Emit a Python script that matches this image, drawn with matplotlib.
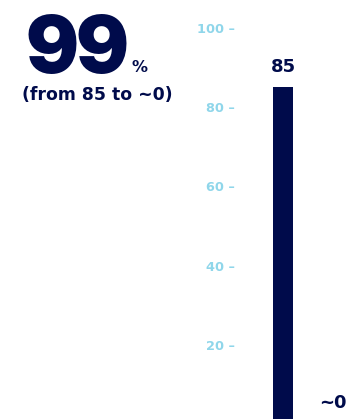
import matplotlib
matplotlib.use("Agg")
import matplotlib.pyplot as plt
from matplotlib import font_manager as fm
from matplotlib.ticker import FixedLocator, FixedFormatter

categories = ["before", "after"]
values = [85, 0.3]
value_labels = ["85", "~0"]
tick_values = [20, 40, 60, 80, 100]
tick_labels = ["20 \u2013", "40 \u2013", "60 \u2013", "80 \u2013", "100 \u2013"]
headline = "99"
subline = "(from 85 to ~0)"

NAVY = "#000b4b"
CYAN = "#8fd6ea"
FONT = ["DejaVu Sans"]

# heaviest installed Inter Display face for the headline
cands = [f for f in fm.fontManager.ttflist
         if f.name == "Inter Display" and f.style == "normal"]
if cands:
    best = max(cands, key=lambda f: (f.weight if isinstance(f.weight, int) else 400))
    BIGPROP = fm.FontProperties(fname=best.fname)
else:
    BIGPROP = fm.FontProperties(family="DejaVu Sans", weight="bold")
BIGPROP.set_size(57)

fig = plt.figure(figsize=(3.47, 4.19), dpi=100)
ax = fig.add_axes([0, 0, 1, 1])
ax.set_facecolor("none")

xs = list(range(len(categories)))
ax.bar(xs, values, width=0.4, color=NAVY)
for x, v, lab in zip(xs, values, value_labels):
    ax.annotate(lab, (x, v), xytext=(0, 8), textcoords="offset points",
                ha="center", va="bottom", fontsize=13, fontweight="bold",
                color=NAVY, family=FONT, annotation_clip=False)

ax.set_xlim(-5.66, 1.28)
ax.set_ylim(1.26, 107.07)

for s in ax.spines.values():
    s.set_visible(False)
ax.set_xticks([])

ax.yaxis.set_major_locator(FixedLocator(tick_values))
ax.yaxis.set_major_formatter(FixedFormatter(tick_labels))
ax.tick_params(axis="y", length=0, pad=0, labelsize=9.3, labelcolor=CYAN)
for t in ax.get_yticklabels():
    t.set_fontweight("bold")
    t.set_family(FONT)
    t.set_horizontalalignment("right")
ax.yaxis.set_tick_params(pad=-235 * 72 / 100)

fig.text(26 / 347, 1 - 73 / 419, headline, fontproperties=BIGPROP,
         color=NAVY, ha="left", va="baseline")
fig.text(131 / 347, 1 - 72 / 419, "%", fontsize=11.5, fontweight="bold",
         color=NAVY, family=FONT, ha="left", va="baseline")
fig.text(22 / 347, 1 - 100 / 419, subline, fontsize=12.4, fontweight="bold",
         color=NAVY, family=FONT, ha="left", va="baseline")

fig.savefig("out.png", dpi=100)
